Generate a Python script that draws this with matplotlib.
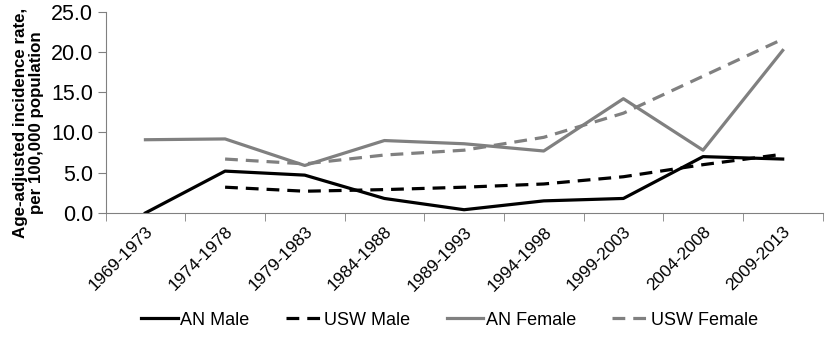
import numpy as np
import matplotlib.pyplot as plt

plt.rcParams['font.family'] = ['Liberation Sans', 'DejaVu Sans']

periods = ['1969-1973', '1974-1978', '1979-1983', '1984-1988', '1989-1993',
           '1994-1998', '1999-2003', '2004-2008', '2009-2013']
an_male = [0.0, 5.2, 4.7, 1.8, 0.4, 1.5, 1.8, 7.0, 6.7]
usw_male = [np.nan, 3.2, 2.7, 2.9, 3.2, 3.6, 4.5, 6.0, 7.3]
an_female = [9.1, 9.2, 5.9, 9.0, 8.6, 7.7, 14.2, 7.8, 20.2]
usw_female = [np.nan, 6.7, 6.1, 7.2, 7.8, 9.4, 12.4, 17.0, 21.6]

grey = '#808080'
fig, ax = plt.subplots(figsize=(8.25, 3.38), dpi=100)
fig.subplots_adjust(left=0.128, right=0.997, top=0.965, bottom=0.37)

x = np.arange(len(periods))
ax.plot(x, an_male, color='black', lw=2.3, label='AN Male')
ax.plot(x, usw_male, color='black', lw=2.3, ls=(0, (4, 2.5)), label='USW Male')
ax.plot(x, an_female, color=grey, lw=2.3, label='AN Female')
ax.plot(x, usw_female, color=grey, lw=2.3, ls=(0, (4, 2.5)), label='USW Female')

ax.set_xlim(-0.5, len(periods) - 0.5)
ax.set_ylim(0, 25)
ax.set_yticks(np.arange(0, 26, 5))
ax.set_yticklabels([f'{v:.1f}' for v in np.arange(0, 26, 5)], fontsize=15.5)
ax.set_xticks(x)
ax.set_xticklabels(periods, rotation=45, ha='right', rotation_mode='anchor', fontsize=12.5)
ax.set_xticks(np.arange(-0.5, len(periods)), minor=True)
ax.tick_params(axis='x', which='major', length=0, pad=8)
ax.tick_params(axis='x', which='minor', length=6, color=grey)
ax.tick_params(axis='y', length=6, color=grey, pad=3)
for s in ['top', 'right']:
    ax.spines[s].set_visible(False)
ax.spines['left'].set_color(grey)
ax.spines['bottom'].set_color(grey)

ax.set_ylabel('Age-adjusted incidence rate,\nper 100,000 population', fontsize=12.2,
              fontweight='bold', linespacing=1.05)
ax.yaxis.set_label_coords(-0.086, 0.45)

fig.legend(loc='center', bbox_to_anchor=(0.545, 0.053), ncol=4, frameon=False,
           fontsize=13, handlelength=2.0, columnspacing=2.0, handletextpad=0.15)

plt.savefig('out.png', dpi=100)
